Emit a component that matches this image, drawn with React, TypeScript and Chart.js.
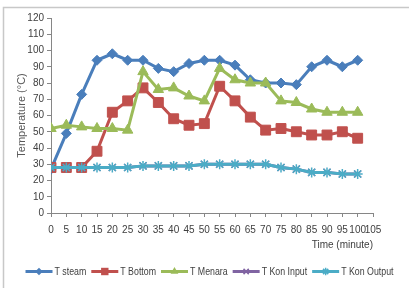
import React, { useEffect, useRef } from "react";
import { Chart, registerables } from "chart.js";

Chart.register(...registerables);

const times = [0, 5, 10, 15, 20, 25, 30, 35, 40, 45, 50, 55, 60, 65, 70, 75, 80, 85, 90, 95, 100];
const tSteam = [27, 49, 73, 94, 98, 94, 94, 89, 87, 92, 94, 94, 91, 82, 80, 80, 79, 90, 94, 90, 94];
const tBottom = [28, 28, 28, 38, 62, 69, 77, 68, 58, 54, 55, 78, 69, 59, 51, 52, 50, 48, 48, 50, 46];
const tMenara = [52, 54, 53, 52, 52, 51, 87, 76, 77, 72, 69, 89, 82, 80, 80, 69, 68, 64, 62, 62, 62];
const tKonInput = [28, 28, 28, 28, 28, 28, 29, 29, 29, 29, 30, 30, 30, 30, 30, 28, 27, 25, 25, 24, 24];
const tKonOutput = [28, 28, 28, 28, 28, 28, 29, 29, 29, 29, 30, 30, 30, 30, 30, 28, 27, 25, 25, 24, 24];

const seriesNames = ["T steam", "T Bottom", "T Menara", "T Kon Input", "T Kon Output"];
const seriesValues = [tSteam, tBottom, tMenara, tKonInput, tKonOutput];
const seriesColors = ["#4a7ebb", "#c0504d", "#9bbb59", "#8064a2", "#4bacc6"];
const seriesMarkers = ["rectRot", "rect", "triangle", "crossRot", "star"];
const markerRadius = [5, 7, 6, 5, 5];

const FONT = "'Liberation Sans', Arial, sans-serif";

function drawMarker(ctx: CanvasRenderingContext2D, marker: string, x: number, y: number, rr: number) {
  ctx.beginPath();
  if (marker === "rectRot") {
    ctx.moveTo(x, y - rr); ctx.lineTo(x + rr, y); ctx.lineTo(x, y + rr); ctx.lineTo(x - rr, y); ctx.closePath(); ctx.fill();
  } else if (marker === "rect") {
    const s = rr * 0.707;
    ctx.rect(x - s, y - s, 2 * s, 2 * s); ctx.fill();
  } else if (marker === "triangle") {
    ctx.moveTo(x, y - rr); ctx.lineTo(x + rr * 0.87, y + rr * 0.5); ctx.lineTo(x - rr * 0.87, y + rr * 0.5); ctx.closePath(); ctx.fill();
  } else if (marker === "crossRot") {
    ctx.moveTo(x - rr * 0.7, y - rr * 0.7); ctx.lineTo(x + rr * 0.7, y + rr * 0.7);
    ctx.moveTo(x + rr * 0.7, y - rr * 0.7); ctx.lineTo(x - rr * 0.7, y + rr * 0.7); ctx.stroke();
  } else {
    ctx.moveTo(x - rr * 0.7, y - rr * 0.7); ctx.lineTo(x + rr * 0.7, y + rr * 0.7);
    ctx.moveTo(x + rr * 0.7, y - rr * 0.7); ctx.lineTo(x - rr * 0.7, y + rr * 0.7);
    ctx.moveTo(x, y - rr); ctx.lineTo(x, y + rr);
    ctx.stroke();
  }
}

const framePlugin = {
  id: "frame",
  beforeDraw(chart: any) {
    const ctx = chart.ctx;
    ctx.save();
    ctx.strokeStyle = "#c8c8c8";
    ctx.lineWidth = 1.5;
    ctx.strokeRect(3.5, 7.5, 430, 300);
    ctx.restore();
  },
};

const LEG_SCALE = 0.8;
const LINE_W = 27;

const legendPlugin = {
  id: "customLegend",
  afterDraw(chart: any) {
    const ctx: CanvasRenderingContext2D = chart.ctx;
    ctx.save();
    ctx.font = `11px ${FONT}`;
    const widths = chart.data.datasets.map((d: any) => ctx.measureText(d.label).width * LEG_SCALE);
    const itemW = widths.map((w: number) => LINE_W + 2 + w);
    const gap = 5;
    const total = itemW.reduce((a: number, b: number) => a + b, 0) + gap * (itemW.length - 1);
    let x = chart.width / 2 + 5 - total / 2;
    const y = 271.5;
    chart.data.datasets.forEach((d: any, i: number) => {
      const color = d.borderColor;
      ctx.strokeStyle = color;
      ctx.fillStyle = color;
      ctx.lineWidth = 3;
      ctx.beginPath();
      ctx.moveTo(x, y);
      ctx.lineTo(x + LINE_W, y);
      ctx.stroke();
      ctx.lineWidth = 1.5;
      drawMarker(ctx, seriesMarkers[i], x + LINE_W / 2, y, markerRadius[i] * 0.75);
      ctx.fillStyle = "#404040";
      ctx.textBaseline = "middle";
      ctx.textAlign = "left";
      ctx.save();
      ctx.translate(x + LINE_W + 2, y);
      ctx.scale(LEG_SCALE, 1);
      ctx.fillText(d.label, 0, 0);
      ctx.restore();
      x += itemW[i] + gap;
    });
    ctx.restore();
  },
};

export default function App() {
  const ref = useRef<HTMLCanvasElement>(null);

  useEffect(() => {
    const canvas = ref.current!;
    const datasets = seriesNames.map((name, i) => ({
      label: name,
      data: times.map((t, j) => ({ x: t, y: seriesValues[i][j] })),
      borderColor: seriesColors[i],
      backgroundColor: seriesColors[i],
      borderWidth: 3,
      pointStyle: seriesMarkers[i] as any,
      pointRadius: markerRadius[i],
      pointBorderWidth: i >= 3 ? 1.5 : 1,
      pointBorderColor: seriesColors[i],
      pointBackgroundColor: seriesColors[i],
      order: 4 - i,
      tension: 0,
    }));

    const chart = new Chart(canvas, {
      type: "line",
      data: { datasets },
      plugins: [framePlugin, legendPlugin],
      options: {
        animation: false,
        responsive: false,
        devicePixelRatio: 1,
        layout: { padding: { left: 10, right: 36, top: 18, bottom: 37 } },
        plugins: {
          tooltip: { enabled: false },
          legend: { display: false },
        },
        scales: {
          x: {
            type: "linear",
            min: 0,
            max: 105,
            afterFit: (s: any) => { s.height = 38; },
            ticks: { stepSize: 5, autoSkip: false, maxRotation: 0, padding: 7, color: "#404040", font: { family: FONT, size: 10 } },
            grid: { drawOnChartArea: false, tickLength: 4, color: "#868686" },
            border: { color: "#868686", width: 1 },
            title: { display: true, text: "Time (minute)", align: "end", color: "#404040", font: { family: FONT, size: 10 }, padding: { top: 0, bottom: 0 } },
          },
          y: {
            min: 0,
            max: 120,
            afterFit: (s: any) => { s.width = 41; },
            ticks: { stepSize: 10, autoSkip: false, padding: 3, color: "#404040", font: { family: FONT, size: 10 } },
            grid: { drawOnChartArea: false, tickLength: 4, color: "#868686" },
            border: { color: "#868686", width: 1 },
            title: { display: true, text: "Temperature (°C)", color: "#595959", font: { family: FONT, size: 11 }, padding: { top: 5, bottom: 0 } },
          },
        },
      },
    });
    return () => chart.destroy();
  }, []);

  return (
    <div style={{ position: "fixed", left: 0, top: 0, width: 409, height: 288, background: "#fff" }}>
      <canvas ref={ref} width={409} height={288} style={{ width: 409, height: 288, display: "block" }} />
    </div>
  );
}
